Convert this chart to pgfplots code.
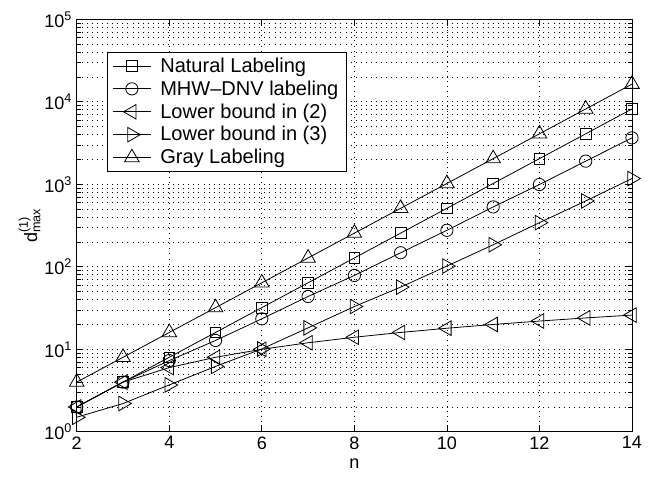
\documentclass[border=0pt]{standalone}
\usepackage{pgfplots}
\pgfplotsset{compat=1.18}
\usepackage{fontspec}
\usepackage{amsmath}
\setmainfont{Liberation Sans}

\begin{document}
\begin{tikzpicture}[font=\fontsize{13.5}{16}\selectfont]
\begin{axis}[
    scale only axis,
    width=416pt, height=309pt,
    xmin=2, xmax=14,
    ymode=log, ymin=1, ymax=1e5,
    xtick={2,4,...,14},
    ytick={1,10,100,1000,10000,100000},
    yticklabels={10$^{\text{0}}$,10$^{\text{1}}$,10$^{\text{2}}$,10$^{\text{3}}$,10$^{\text{4}}$,10$^{\text{5}}$},
    /pgf/number format/assume math mode=true,
    tick label style={font=\fontsize{13.5}{16}\selectfont},
    xlabel={n},
    ylabel={d$^{\text{(1)}}_{\text{max}}$},
    ylabel style={yshift=-4pt},
    grid=both,
    major grid style={dash pattern=on 0.6pt off 3.2pt, black, line width=0.5pt},
    minor grid style={dash pattern=on 0.6pt off 3.2pt, black, line width=0.5pt},
    axis line style={line width=0.7pt},
    tick style={black, line width=0.6pt},
    major tick length=5pt, minor tick length=3pt,
    every axis plot/.append style={black, line width=0.6pt, mark options={solid, fill=none}},
    legend cell align=left,
    legend image code/.code={
      \draw[mark repeat=2, mark phase=2] plot coordinates {(0pt,0pt) (14pt,0pt) (28pt,0pt)};
    },
    legend style={
      at={(0.0546,0.921)}, anchor=north west,
      draw=black, line width=0.6pt, fill=white,
      nodes={font=\fontsize{15}{18}\selectfont, inner sep=2pt},
      row sep=0.8pt, inner xsep=4pt, inner ysep=2pt,
      /tikz/every odd column/.append style={column sep=5pt},
    },
]
% Natural Labeling
\addplot[mark=square, mark size=4pt] coordinates {
 (2,2) (3,4) (4,8) (5,16) (6,32) (7,64) (8,128) (9,256) (10,512) (11,1024) (12,2048) (13,4096) (14,8192)};
\addlegendentry{Natural Labeling}
% MHW-DNV labeling
\addplot[mark=o, mark size=4.6pt] coordinates {
 (2,2) (3,4) (4,7.3) (5,12.8) (6,23.4) (7,43.7) (8,78.6) (9,148) (10,277) (11,532) (12,994) (13,1910) (14,3660)};
\addlegendentry{MHW--DNV labeling}
% Lower bound in (2)
\addplot[mark=triangle, mark size=6.3pt, mark options={rotate=90}] coordinates {
 (2,2) (3,4) (4,6) (5,8) (6,10) (7,12) (8,14) (9,16) (10,18) (11,20) (12,22) (13,24) (14,26)};
\addlegendentry{Lower bound in (2)}
% Lower bound in (3)
\addplot[mark=triangle, mark size=6.3pt, mark options={rotate=-90}] coordinates {
 (2,1.5) (3,2.2) (4,3.7) (5,6.2) (6,10.1) (7,18.2) (8,33) (9,56.7) (10,102) (11,185) (12,343) (13,629) (14,1175)};
\addlegendentry{Lower bound in (3)}
% Gray Labeling
\addplot[mark=triangle, mark size=6.3pt] coordinates {
 (2,4) (3,8) (4,16) (5,32) (6,64) (7,128) (8,256) (9,512) (10,1024) (11,2048) (12,4096) (13,8192) (14,16384)};
\addlegendentry{Gray Labeling}
\end{axis}
\pgfresetboundingbox
\path[use as bounding box] ([shift={(-57.5pt,-37.5pt)}]current axis.south west) rectangle ([shift={(15pt,14.5pt)}]current axis.north east);
\end{tikzpicture}
\end{document}
